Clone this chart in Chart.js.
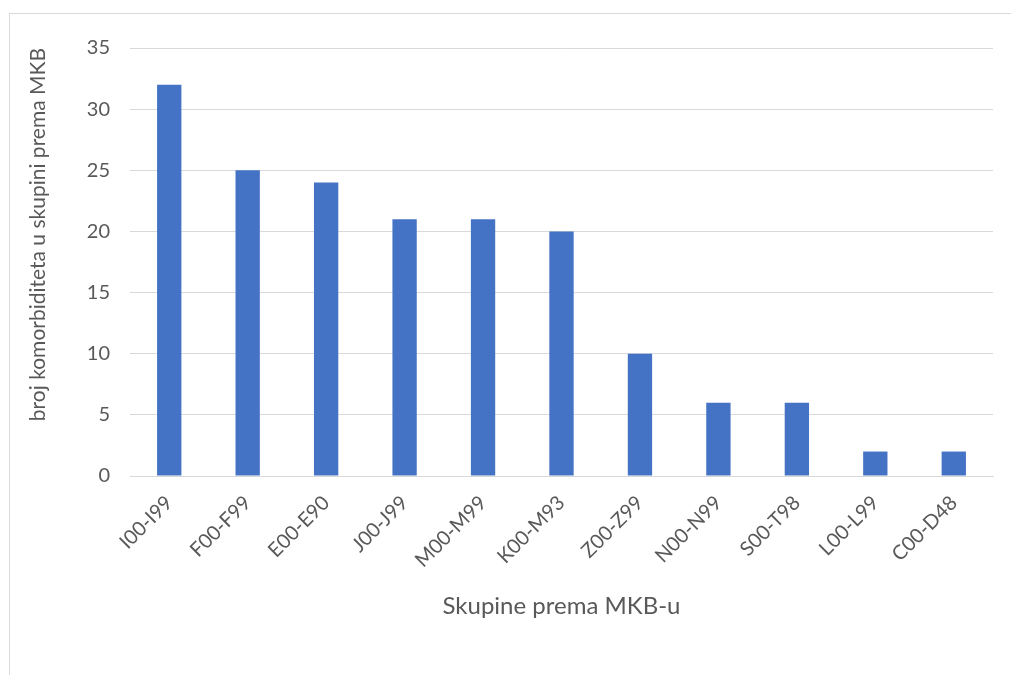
<!DOCTYPE html>
<html>
<head>
<meta charset="utf-8">
<script src="https://cdn.jsdelivr.net/npm/chart.js@4"></script>
<style>
    html, body { margin: 0; padding: 0; background: #fff; overflow: hidden; }
    #frame {
        position: absolute;
        left: 9px;
        top: 13px;
        width: 1010px;
        height: 670px;
        border: 1px solid #d9d9d9;
    }
    #wrap { position: absolute; left: 0; top: 0; width: 1001px; height: 661px; }
</style>
</head>
<body>
<div id="frame">
    <div id="wrap"><canvas id="mkbChart"></canvas></div>
</div>
<script>
// Categories and values
const groups = ['I00-I99', 'F00-F99', 'E00-E90', 'J00-J99', 'M00-M99', 'K00-M93', 'Z00-Z99', 'N00-N99', 'S00-T98', 'L00-L99', 'C00-D48'];
const counts = [32, 25, 24, 21, 21, 20, 10, 6, 6, 2, 2];
const yTicks = [0, 5, 10, 15, 20, 25, 30, 35];

const textColor = '#595959';
const gridColor = '#d9d9d9';
const fontFamily = 'Lato, "Open Sans", sans-serif';

function initChart() {
    const ctx = document.getElementById('mkbChart').getContext('2d');
    new Chart(ctx, {
        type: 'bar',
        data: {
            labels: groups,
            datasets: [{
                data: counts,
                backgroundColor: '#4472c4',
                barPercentage: 0.62,
                categoryPercentage: 0.5
            }]
        },
        options: {
            responsive: true,
            maintainAspectRatio: false,
            animation: false,
            layout: { padding: { left: 0, right: 18, top: 34, bottom: 54 } },
            plugins: {
                legend: { display: false },
                tooltip: { enabled: false }
            },
            scales: {
                x: {
                    grid: { display: false },
                    border: { display: true, color: gridColor },
                    ticks: {
                        color: textColor,
                        font: { family: fontFamily, size: 20 },
                        maxRotation: 45,
                        minRotation: 45,
                        padding: 7
                    },
                    title: {
                        display: true,
                        text: 'Skupine prema MKB-u',
                        color: textColor,
                        font: { family: fontFamily, size: 24 },
                        padding: { top: 0, bottom: 0 }
                    },
                    afterFit: function(axis) { axis.height = 145; }
                },
                y: {
                    min: 0,
                    max: 35,
                    afterBuildTicks: function(axis) {
                        axis.ticks = yTicks.map(v => ({ value: v }));
                    },
                    grid: { color: gridColor, drawTicks: false },
                    border: { display: false },
                    ticks: {
                        color: textColor,
                        font: { family: fontFamily, size: 20 },
                        padding: 20
                    },
                    title: {
                        display: true,
                        text: 'broj komorbiditeta u skupini prema MKB',
                        align: 'end',
                        color: textColor,
                        font: { family: fontFamily, size: 21 },
                        padding: { top: 16, bottom: 0 }
                    },
                    afterFit: function(axis) { axis.width = 120; }
                }
            }
        }
    });
}

window.addEventListener('load', initChart);
</script>
</body>
</html>
